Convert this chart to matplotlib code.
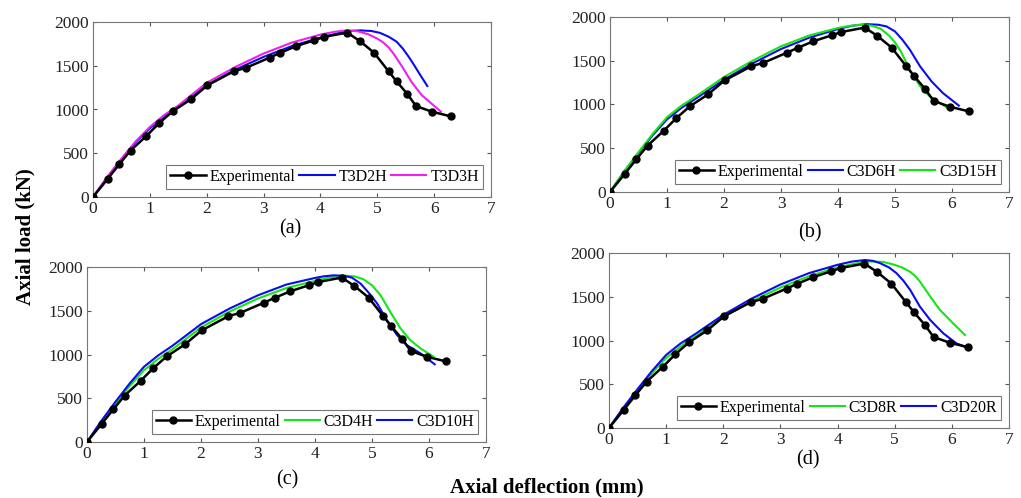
import matplotlib
matplotlib.use("Agg")
import matplotlib.pyplot as plt

plt.rcParams['font.family'] = ['Liberation Serif', 'DejaVu Serif']
plt.rcParams['mathtext.fontset'] = 'stix'

# Experimental data (shared by all panels)
exp_x = [0, 0.26, 0.46, 0.66, 0.94, 1.16, 1.40, 1.72, 2.01, 2.48, 2.69, 3.11, 3.29,
         3.57, 3.89, 4.06, 4.47, 4.69, 4.94, 5.20, 5.34, 5.53, 5.68, 5.96, 6.29]
exp_y = [0, 209, 372, 531, 698, 842, 979, 1116, 1275, 1438, 1476, 1594, 1647,
         1723, 1791, 1829, 1879, 1784, 1651, 1435, 1321, 1176, 1040, 975, 922]

# Panel (a)
t3d2h_x = [0, 0.25, 0.5, 0.75, 1.0, 1.25, 1.5, 2.0, 2.5, 3.0, 3.5, 4.0, 4.3, 4.5, 4.7, 4.9,
           5.05, 5.2, 5.34, 5.45, 5.55, 5.65, 5.75, 5.88]
t3d2h_y = [0, 225, 430, 625, 785, 915, 1025, 1279, 1455, 1601, 1725, 1822, 1870, 1898, 1904, 1897,
           1875, 1832, 1775, 1695, 1605, 1505, 1400, 1268]
t3d3h_x = [0, 0.25, 0.5, 0.75, 1.0, 1.25, 1.5, 2.0, 2.5, 3.0, 3.5, 4.0, 4.25, 4.45, 4.65, 4.84,
           5.0, 5.1, 5.2, 5.3, 5.42, 5.6, 5.78, 5.95, 6.12]
t3d3h_y = [0, 228, 438, 635, 800, 935, 1045, 1305, 1485, 1640, 1765, 1856, 1888, 1903, 1895, 1860,
           1810, 1768, 1710, 1625, 1507, 1317, 1165, 1070, 975]

# Panel (b)
c3d6h_x = [0, 0.25, 0.5, 0.75, 1.0, 1.25, 1.5, 2.0, 2.5, 3.0, 3.5, 4.0, 4.25, 4.5, 4.7, 4.85,
           5.0, 5.13, 5.26, 5.44, 5.64, 5.84, 6.12]
c3d6h_y = [0, 235, 445, 650, 830, 960, 1065, 1284, 1470, 1634, 1765, 1863, 1900, 1918, 1912, 1893,
           1835, 1740, 1627, 1436, 1265, 1131, 987]
c3d15h_x = [0, 0.25, 0.5, 0.75, 1.0, 1.25, 1.5, 2.0, 2.5, 3.0, 3.5, 4.0, 4.2, 4.4, 4.6, 4.75,
            4.9, 5.0, 5.1, 5.26, 5.44, 5.61, 5.79, 5.95]
c3d15h_y = [0, 238, 455, 665, 855, 985, 1090, 1314, 1500, 1665, 1790, 1874, 1898, 1912, 1900, 1865,
            1785, 1710, 1610, 1398, 1208, 1093, 1017, 949]

# Panel (c)
c3d4h_x = [0, 0.25, 0.5, 0.75, 1.0, 1.25, 1.5, 2.0, 2.5, 3.0, 3.5, 4.0, 4.25, 4.5, 4.7, 4.85,
           5.0, 5.15, 5.32, 5.5, 5.67, 5.85, 6.08]
c3d4h_y = [0, 232, 440, 640, 820, 950, 1060, 1309, 1490, 1640, 1760, 1841, 1880, 1903, 1892, 1860,
           1791, 1677, 1488, 1298, 1165, 1070, 975]
c3d10h_x = [0, 0.25, 0.5, 0.75, 1.0, 1.25, 1.5, 2.0, 2.5, 3.0, 3.5, 4.0, 4.15, 4.33, 4.5, 4.65,
            4.8, 4.95, 5.09, 5.26, 5.44, 5.61, 5.85, 6.1]
c3d10h_y = [0, 240, 460, 670, 860, 990, 1100, 1347, 1525, 1677, 1800, 1875, 1893, 1905, 1900, 1878,
            1810, 1700, 1583, 1393, 1222, 1108, 1013, 888]

# Panel (d)
c3d8r_x = [0, 0.25, 0.5, 0.75, 1.0, 1.25, 1.5, 2.0, 2.5, 3.0, 3.5, 4.0, 4.3, 4.56, 4.8, 4.97,
           5.13, 5.27, 5.36, 5.44, 5.62, 5.79, 6.02, 6.23]
c3d8r_y = [0, 225, 430, 625, 800, 930, 1040, 1273, 1450, 1605, 1735, 1835, 1878, 1904, 1898, 1870,
           1835, 1785, 1735, 1675, 1503, 1350, 1197, 1063]
c3d20r_x = [0, 0.25, 0.5, 0.75, 1.0, 1.25, 1.5, 2.0, 2.5, 3.0, 3.5, 4.0, 4.25, 4.48, 4.62, 4.74,
            4.9, 5.03, 5.15, 5.27, 5.44, 5.62, 5.85, 6.08, 6.23]
c3d20r_y = [0, 232, 445, 650, 835, 965, 1070, 1293, 1480, 1640, 1770, 1865, 1902, 1920, 1910, 1885,
            1835, 1770, 1685, 1579, 1388, 1235, 1082, 967, 929]

BLUE = '#0b0bf0'
MAG = '#f01ef0'
GREEN = '#14e614'

panels = [
    dict(rect=(93, 22, 491, 197), label='(a)', lab_xy=(290, 229),
         sims=[(t3d2h_x, t3d2h_y, BLUE, 'T3D2H'), (t3d3h_x, t3d3h_y, MAG, 'T3D3H')]),
    dict(rect=(610, 17, 1009, 192), label='(b)', lab_xy=(810, 233),
         sims=[(c3d6h_x, c3d6h_y, BLUE, 'C3D6H'), (c3d15h_x, c3d15h_y, GREEN, 'C3D15H')]),
    dict(rect=(87, 267, 486, 442), label='(c)', lab_xy=(287, 480),
         sims=[(c3d4h_x, c3d4h_y, GREEN, 'C3D4H'), (c3d10h_x, c3d10h_y, BLUE, 'C3D10H')]),
    dict(rect=(609, 253, 1009, 428), label='(d)', lab_xy=(808, 460),
         sims=[(c3d8r_x, c3d8r_y, GREEN, 'C3D8R'), (c3d20r_x, c3d20r_y, BLUE, 'C3D20R')]),
]

W, H = 1021, 498
fig = plt.figure(figsize=(W / 100, H / 100), dpi=100)

for p in panels:
    l, t, r, b = p['rect']
    ax = fig.add_axes([l / W, 1 - b / H, (r - l) / W, (b - t) / H])
    ax.plot(exp_x, exp_y, color='black', lw=1.8, marker='o', ms=5, label='Experimental', zorder=3)
    for sx, sy, c, name in p['sims']:
        ax.plot(sx, sy, color=c, lw=1.5, label=name, zorder=2)
    ax.set_xlim(0, 7)
    ax.set_ylim(0, 2000)
    ax.set_xticks(range(0, 8))
    ax.set_yticks([0, 500, 1000, 1500, 2000])
    ax.tick_params(direction='in', top=True, right=True, labelsize=12.5,
                   length=3, color='#555555', labelcolor='#222222', pad=3)
    for s in ax.spines.values():
        s.set_color('#777777')
        s.set_linewidth(0.8)
    leg = ax.legend(loc='lower right', ncol=3, fontsize=11.5, frameon=True, fancybox=False,
                    edgecolor='#555555', handlelength=2.2, handletextpad=0.25,
                    columnspacing=0.25, borderpad=0.25, borderaxespad=0.5)
    leg.get_frame().set_linewidth(0.8)
    fig.text(p['lab_xy'][0] / W, 1 - p['lab_xy'][1] / H, p['label'], ha='center', va='center',
             fontsize=14.5)

fig.text(25 / W, 1 - 237 / H, 'Axial load (kN)', rotation=90, ha='center', va='center',
         fontsize=15, fontweight='bold')
fig.text(547 / W, 1 - 487 / H, 'Axial deflection (mm)', ha='center', va='center',
         fontsize=15, fontweight='bold')

fig.savefig('out.png', dpi=100)
